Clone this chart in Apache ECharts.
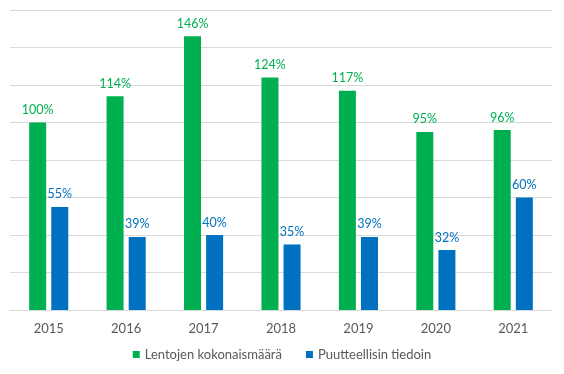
<!DOCTYPE html>
<html><head><meta charset="utf-8">
<script src="https://cdn.jsdelivr.net/npm/echarts@6/dist/echarts.min.js"></script>
<style>html,body{margin:0;padding:0;background:#fff}#c{width:564px;height:374px}</style>
</head><body><div id="c"></div>
<script>
const categories = ['2015','2016','2017','2018','2019','2020','2021'];
const totalFlights = [100,114,146,124,117,95,96];
const incomplete = [55,39,40,35,39,32,60];
const seriesNames = ['Lentojen kokonaismäärä','Puutteellisin tiedoin'];

const chart = echarts.init(document.getElementById('c'));
const font = 'Lato, "Open Sans", sans-serif';
chart.setOption({
  animation:false,
  grid:{left:10,right:12,top:10,bottom:64,containLabel:false},
  legend:{bottom:8,left:'center',itemWidth:7,itemHeight:7,itemGap:24,icon:'rect',
    textStyle:{color:'#595959',fontSize:13,fontFamily:font},data:seriesNames},
  xAxis:{type:'category',data:categories,
    axisLine:{lineStyle:{color:'#d9d9d9'}},axisTick:{show:false},
    axisLabel:{color:'#595959',fontSize:13,fontFamily:font,margin:12}},
  yAxis:{type:'value',min:0,max:160,interval:20,axisLabel:{show:false},
    axisLine:{show:false},axisTick:{show:false},
    splitLine:{lineStyle:{color:'#d9d9d9'}}},
  series:[
    {name:seriesNames[0],type:'bar',data:totalFlights,barWidth:17,barGap:'30%',
     itemStyle:{color:'#00B050'},
     label:{show:true,position:'top',formatter:'{c}%',color:'#00B050',fontSize:12.5,fontFamily:font,distance:6}},
    {name:seriesNames[1],type:'bar',data:incomplete,barWidth:17,
     itemStyle:{color:'#0070C0'},
     label:{show:true,position:'top',formatter:'{c}%',color:'#0070C0',fontSize:12.5,fontFamily:font,distance:6}}
  ]
});
</script></body></html>
